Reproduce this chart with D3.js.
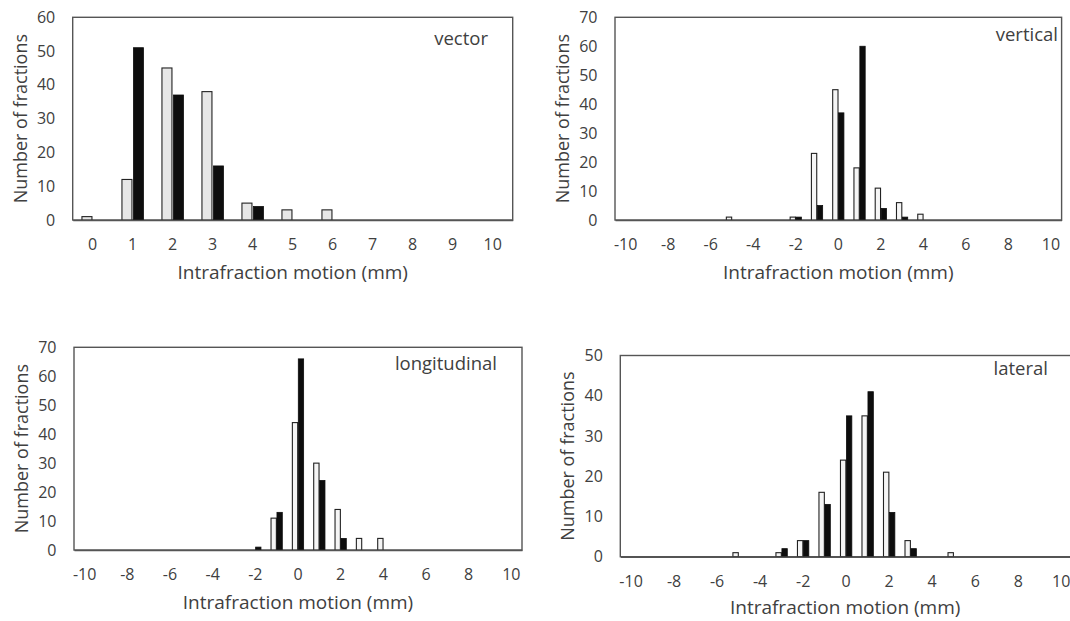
<!DOCTYPE html>
<html><head><meta charset="utf-8">
<script src="https://cdn.jsdelivr.net/npm/d3@7/dist/d3.min.js"></script>
<style>body{margin:0;background:#fff}svg{display:block}text{font-family:"Open Sans",sans-serif;fill:#404040}</style>
</head><body><svg id="c" width="1070" height="621"></svg>
<script>
// ---- data ----
const vectorCats = [0,1,2,3,4,5,6,7,8,9,10];
const vectorWhite = [1,12,45,38,5,3,3,0,0,0,0];
const vectorBlack = [0,51,37,16,4,0,0,0,0,0,0];
const motionCats = [-10,-9,-8,-7,-6,-5,-4,-3,-2,-1,0,1,2,3,4,5,6,7,8,9,10];
const motionTicks = [-10,-8,-6,-4,-2,0,2,4,6,8,10];
const verticalWhite = [0,0,0,0,0,1,0,0,1,23,45,18,11,6,2,0,0,0,0,0,0];
const verticalBlack = [0,0,0,0,0,0,0,0,1,5,37,60,4,1,0,0,0,0,0,0,0];
const longWhite = [0,0,0,0,0,0,0,0,0,11,44,30,14,4,4,0,0,0,0,0,0];
const longBlack = [0,0,0,0,0,0,0,0,1,13,66,24,4,0,0,0,0,0,0,0,0];
const latWhite = [0,0,0,0,0,1,0,1,4,16,24,35,21,4,0,1,0,0,0,0,0];
const latBlack = [0,0,0,0,0,0,0,2,4,13,35,41,11,2,0,0,0,0,0,0,0];
const yTicks60 = [0,10,20,30,40,50,60];
const yTicks70 = [0,10,20,30,40,50,60,70];
const yTicks50 = [0,10,20,30,40,50];
const xTitle = "Intrafraction motion (mm)";
const yTitle = "Number of fractions";

const panels = [
  {name:"vector", cats:vectorCats, ticks:vectorCats, white:vectorWhite, black:vectorBlack, yMax:60, yTicks:yTicks60,
   box:[72.7,512.7,17.3,220], gap:1.5, wfill:"#e6e6e6", label:[488,45], tY:279},
  {name:"vertical", cats:motionCats, ticks:motionTicks, white:verticalWhite, black:verticalBlack, yMax:70, yTicks:yTicks70,
   box:[615,1061.6,17.3,220], gap:0.6, wfill:"#f5f5f5", label:[1058,41], tY:279},
  {name:"longitudinal", cats:motionCats, ticks:motionTicks, white:longWhite, black:longBlack, yMax:70, yTicks:yTicks70,
   box:[74,522,347.3,550], gap:0.6, wfill:"#f5f5f5", label:[497,370], tY:609},
  {name:"lateral", cats:motionCats, ticks:motionTicks, white:latWhite, black:latBlack, yMax:50, yTicks:yTicks50,
   box:[620.3,1072,355.5,556.7], gap:0.6, wfill:"#f5f5f5", label:[1048,375], tY:614}
];

const svg = d3.select("#c");
panels.forEach(p => {
  const [L,R,T,B] = p.box;
  const x = d3.scaleBand().domain(p.cats).range([L,R]).padding(0);
  const y = d3.scaleLinear().domain([0,p.yMax]).range([B,T]);
  const g = svg.append("g");
  const bw = x.bandwidth()/4;
  g.append("rect").attr("x",L).attr("y",T).attr("width",R-L).attr("height",B-T)
    .attr("fill","none").attr("stroke","#555").attr("stroke-width",1.4);
  g.selectAll(".w").data(p.cats.map((c,i)=>({c,v:p.white[i]})).filter(d=>d.v>0)).enter().append("rect")
    .attr("x",d=>x(d.c)+x.bandwidth()/2-p.gap/2-bw).attr("width",bw)
    .attr("y",d=>y(d.v)).attr("height",d=>B-y(d.v))
    .attr("fill",p.wfill).attr("stroke","#222").attr("stroke-width",1.1);
  g.selectAll(".b").data(p.cats.map((c,i)=>({c,v:p.black[i]})).filter(d=>d.v>0)).enter().append("rect")
    .attr("x",d=>x(d.c)+x.bandwidth()/2+p.gap/2).attr("width",bw)
    .attr("y",d=>y(d.v)).attr("height",d=>B-y(d.v))
    .attr("fill","#0d0d0d").attr("stroke","#0d0d0d").attr("stroke-width",0.8);
  const xa = d3.axisBottom(x).tickValues(p.ticks).tickSize(0).tickPadding(0);
  const gx = g.append("g").attr("transform",`translate(0,${B})`).call(xa);
  gx.select(".domain").attr("stroke","#555").attr("stroke-width",1.6);
  gx.selectAll("text").attr("dy",null).attr("y",30).style("font-size","16px").style("fill","#404040");
  const ya = d3.axisLeft(y).tickValues(p.yTicks).tickSize(0).tickPadding(17.5);
  const gy = g.append("g").attr("transform",`translate(${L},0)`).call(ya);
  gy.select(".domain").remove();
  gy.selectAll("text").style("font-size","16px").style("fill","#404040");
  g.append("text").attr("x",(L+Math.min(R,1070))/2).attr("y",p.tY).attr("text-anchor","middle")
    .style("font-size","19px").text(xTitle);
  g.append("text").attr("transform",`translate(${L-46},${(T+B)/2}) rotate(-90)`).attr("text-anchor","middle")
    .style("font-size","18px").text(yTitle);
  g.append("text").attr("x",p.label[0]).attr("y",p.label[1]).attr("text-anchor","end")
    .style("font-size","18.5px").text(p.name);
});
</script></body></html>
